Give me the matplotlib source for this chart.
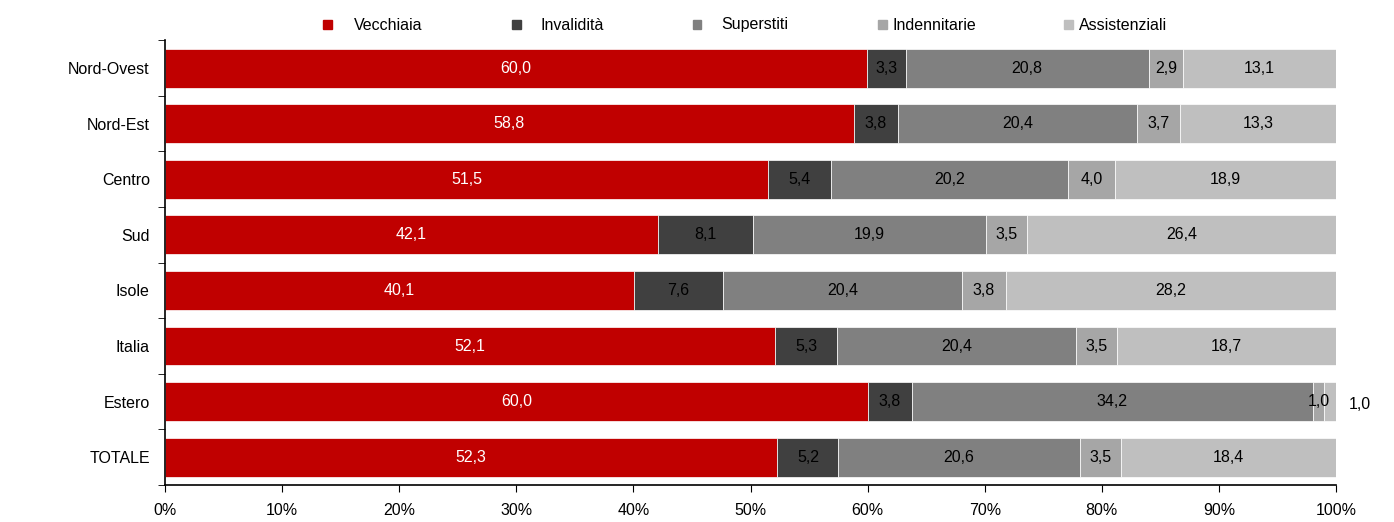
import numpy as np
import matplotlib.pyplot as plt
from matplotlib.patches import Rectangle

plt.rcParams['font.family'] = ['Liberation Sans', 'DejaVu Sans']

# data
categories = ['Nord-Ovest', 'Nord-Est', 'Centro', 'Sud', 'Isole', 'Italia', 'Estero', 'TOTALE']
series = ['Vecchiaia', 'Invalidità', 'Superstiti', 'Indennitarie', 'Assistenziali']
vecchiaia = [60.0, 58.8, 51.5, 42.1, 40.1, 52.1, 60.0, 52.3]
invalidita = [3.3, 3.8, 5.4, 8.1, 7.6, 5.3, 3.8, 5.2]
superstiti = [20.8, 20.4, 20.2, 19.9, 20.4, 20.4, 34.2, 20.6]
indennitarie = [2.9, 3.7, 4.0, 3.5, 3.8, 3.5, 1.0, 3.5]
assistenziali = [13.1, 13.3, 18.9, 26.4, 28.2, 18.7, 1.0, 18.4]

colors = ['#C00000', '#404040', '#808080', '#A6A6A6', '#BFBFBF']
txtcol = ['white', 'black', 'black', 'black', 'black']

fig = plt.figure(figsize=(13.94, 5.22), dpi=100)
ax = fig.add_axes([0.1184, 0.0709, 0.84, 0.852])

vals = np.array([vecchiaia, invalidita, superstiti, indennitarie, assistenziali])
tot = vals.sum(axis=0)
pct = vals / tot * 100
y = np.arange(len(categories))
left = np.zeros(len(categories))
for k in range(len(series)):
    ax.barh(y, pct[k], left=left, height=0.7, color=colors[k], edgecolor='white', linewidth=0.5)
    for i in range(len(categories)):
        s = ('%.1f' % vals[k, i]).replace('.', ',')
        if categories[i] == 'Estero' and k == 4:
            # small segment: label outside the bar
            ax.text(102.0, y[i] + 0.05, s, ha='center', va='center', fontsize=11.5, color='black', clip_on=False)
        else:
            ax.text(left[i] + pct[k, i] / 2, y[i], s, ha='center', va='center', fontsize=11.5, color=txtcol[k])
    left += pct[k]

ax.set_xlim(0, 100)
ax.set_ylim(len(categories) - 0.5, -0.5)
ax.set_xticks(np.arange(0, 101, 10))
ax.set_xticklabels(['%d%%' % v for v in range(0, 101, 10)], fontsize=11.5)
ax.set_yticks(y)
ax.set_yticklabels(categories, fontsize=11.5)
ax.tick_params(axis='y', length=0, pad=11)
ax.set_yticks(np.arange(-0.5, len(categories), 1), minor=True)
ax.tick_params(axis='y', which='minor', length=5, direction='out')
ax.tick_params(axis='x', length=5, direction='out', pad=8)
for sp in ['top', 'right']:
    ax.spines[sp].set_visible(False)
ax.spines['left'].set_linewidth(1.2)
ax.spines['bottom'].set_linewidth(1.2)

# legend drawn by hand (marker x, text x in pixels)
leg_m = [327, 516, 697, 882, 1068]
leg_t = [354, 541, 721, 893, 1079]
leg_y = 1 - 25 / 522.0
for k in range(len(series)):
    x0 = leg_m[k] / 1394.0
    fig.add_artist(Rectangle((x0 - 4.5 / 1394.0, leg_y - 4.5 / 522.0), 9 / 1394.0, 9 / 522.0,
                             color=colors[k], transform=fig.transFigure))
    fig.text(leg_t[k] / 1394.0, leg_y, series[k], ha='left', va='center', fontsize=11.5)

fig.savefig('out.png', dpi=100)
